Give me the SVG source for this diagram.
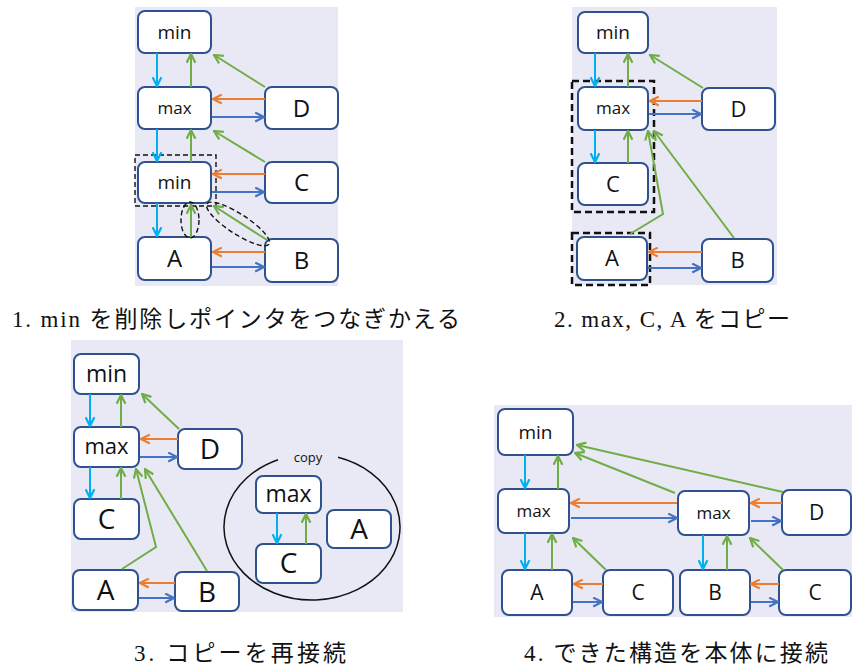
<svg xmlns="http://www.w3.org/2000/svg" width="852" height="668" viewBox="0 0 852 668">
  <style>
    .bg { fill: #E9E9F5; }
    .node rect { fill: #FFFFFF; stroke: #2F528F; stroke-width: 2; }
    .node text { font-family: "Open Sans", "Noto Sans", "Liberation Sans", sans-serif; fill: #111; text-anchor: middle; }
    .cy { stroke: #00B0F0; stroke-width: 2; fill: none; marker-end: url(#hCy); }
    .gr { stroke: #70AD47; stroke-width: 2; fill: none; marker-end: url(#hGr); }
    .or { stroke: #ED7D31; stroke-width: 2; fill: none; marker-end: url(#hOr); }
    .bl { stroke: #4472C4; stroke-width: 2; fill: none; marker-end: url(#hBl); }
    .dash { fill: none; stroke: #111; stroke-width: 1.4; stroke-dasharray: 5 3; }
    .dash2 { fill: none; stroke: #111; stroke-width: 2.5; stroke-dasharray: 7 4; }
    .cap { font-family: "Liberation Serif", "Noto Sans CJK JP", serif; font-size: 23px; fill: #111; text-anchor: middle; }
  </style>
  <defs>
    <marker id="hCy" viewBox="0 0 10 10" refX="9" refY="5" markerWidth="11" markerHeight="11" markerUnits="userSpaceOnUse" orient="auto"><path d="M1,1 L9,5 L1,9" fill="none" stroke="#00B0F0" stroke-width="2"/></marker>
    <marker id="hGr" viewBox="0 0 10 10" refX="9" refY="5" markerWidth="11" markerHeight="11" markerUnits="userSpaceOnUse" orient="auto"><path d="M1,1 L9,5 L1,9" fill="none" stroke="#70AD47" stroke-width="2"/></marker>
    <marker id="hOr" viewBox="0 0 10 10" refX="9" refY="5" markerWidth="11" markerHeight="11" markerUnits="userSpaceOnUse" orient="auto"><path d="M1,1 L9,5 L1,9" fill="none" stroke="#ED7D31" stroke-width="2"/></marker>
    <marker id="hBl" viewBox="0 0 10 10" refX="9" refY="5" markerWidth="11" markerHeight="11" markerUnits="userSpaceOnUse" orient="auto"><path d="M1,1 L9,5 L1,9" fill="none" stroke="#4472C4" stroke-width="2"/></marker>
  </defs>

  <rect width="852" height="668" fill="#FFFFFF"/>

  <!-- backgrounds of the four steps -->
  <rect class="bg" x="135" y="7" width="203" height="279"/>
  <rect class="bg" x="572" y="7" width="205" height="278"/>
  <rect class="bg" x="71" y="340" width="332" height="272"/>
  <rect class="bg" x="494" y="405" width="358" height="212"/>

  <!-- step 1 -->
  <g id="p1-min-top" class="node"><rect x="138" y="11" width="73" height="42" rx="7"/><text x="174.5" y="39" font-size="19">min</text></g>
  <g id="p1-max" class="node"><rect x="138" y="87" width="73" height="42" rx="7"/><text x="174.5" y="114" font-size="17">max</text></g>
  <g id="p1-D" class="node"><rect x="265" y="87" width="73" height="42" rx="7"/><text x="301.5" y="117" font-size="24">D</text></g>
  <g id="p1-min" class="node"><rect x="138" y="162" width="73" height="41" rx="7"/><text x="174.5" y="189" font-size="19">min</text></g>
  <g id="p1-C" class="node"><rect x="265" y="162" width="73" height="41" rx="7"/><text x="301.5" y="191" font-size="24">C</text></g>
  <g id="p1-A" class="node"><rect x="138" y="237" width="73" height="43" rx="7"/><text x="174.5" y="267" font-size="24">A</text></g>
  <g id="p1-B" class="node"><rect x="265" y="239" width="73" height="43" rx="7"/><text x="301.5" y="269" font-size="24">B</text></g>
  <g id="p1-marks">
    <rect class="dash" x="135" y="155" width="81" height="51"/>
    <ellipse class="dash" cx="190" cy="220" rx="9" ry="18"/>
    <ellipse class="dash" cx="238" cy="224" rx="37" ry="10" transform="rotate(33 238 224)"/>
  </g>

  <!-- step 2 -->
  <g id="p2-min" class="node"><rect x="578" y="12" width="70" height="41" rx="7"/><text x="613" y="39" font-size="19">min</text></g>
  <g id="p2-max" class="node"><rect x="578" y="87" width="70" height="43" rx="7"/><text x="613" y="114" font-size="17">max</text></g>
  <g id="p2-D" class="node"><rect x="702" y="88" width="73" height="42" rx="7"/><text x="738.5" y="117" font-size="22">D</text></g>
  <g id="p2-C" class="node"><rect x="578" y="163" width="70" height="42" rx="7"/><text x="613" y="192" font-size="22">C</text></g>
  <g id="p2-A" class="node"><rect x="577" y="237" width="70" height="43" rx="7"/><text x="612" y="266" font-size="22">A</text></g>
  <g id="p2-B" class="node"><rect x="702" y="239" width="71" height="43" rx="7"/><text x="737.5" y="268" font-size="22">B</text></g>
  <g id="p2-marks">
    <rect class="dash2" x="572" y="81" width="82" height="131"/>
    <rect class="dash2" x="572" y="233" width="78" height="52"/>
  </g>

  <!-- step 3 -->
  <g id="p3-min" class="node"><rect x="74" y="354" width="65" height="40" rx="7"/><text x="106.5" y="382" font-size="23">min</text></g>
  <g id="p3-max" class="node"><rect x="74" y="427" width="65" height="40" rx="7"/><text x="106.5" y="454" font-size="22">max</text></g>
  <g id="p3-D" class="node"><rect x="178" y="429" width="64" height="40" rx="7"/><text x="210" y="459" font-size="28">D</text></g>
  <g id="p3-C" class="node"><rect x="74" y="499" width="65" height="40" rx="7"/><text x="106.5" y="529" font-size="28">C</text></g>
  <g id="p3-A" class="node"><rect x="73" y="570" width="65" height="40" rx="7"/><text x="105.5" y="600" font-size="28">A</text></g>
  <g id="p3-B" class="node"><rect x="175" y="572" width="64" height="39" rx="7"/><text x="207" y="602" font-size="28">B</text></g>
  <g id="p3-copy">
    <path d="M338,457.3 A88,73 0 1 1 278,459.7" fill="none" stroke="#111" stroke-width="1.5"/>
    <text x="308" y="462" font-family="Open Sans, Noto Sans, Liberation Sans, sans-serif" font-size="13" text-anchor="middle" fill="#111">copy</text>
  </g>
  <g id="p3-copy-max" class="node"><rect x="256" y="476" width="65" height="37" rx="7"/><text x="288.5" y="502" font-size="23">max</text></g>
  <g id="p3-copy-C" class="node"><rect x="256" y="544" width="65" height="39" rx="7"/><text x="288.5" y="573" font-size="28">C</text></g>
  <g id="p3-copy-A" class="node"><rect x="327" y="510" width="64" height="38" rx="7"/><text x="359" y="539" font-size="28">A</text></g>

  <!-- step 4 -->
  <g id="p4-min" class="node"><rect x="498" y="409" width="75" height="46" rx="7"/><text x="535.5" y="439" font-size="19">min</text></g>
  <g id="p4-max1" class="node"><rect x="498" y="489" width="71" height="44" rx="7"/><text x="533.5" y="517" font-size="17">max</text></g>
  <g id="p4-A" class="node"><rect x="502" y="570" width="70" height="45" rx="7"/><text x="537" y="600" font-size="21">A</text></g>
  <g id="p4-C1" class="node"><rect x="603" y="570" width="70" height="45" rx="7"/><text x="638" y="600" font-size="21">C</text></g>
  <g id="p4-max2" class="node"><rect x="678" y="491" width="71" height="44" rx="7"/><text x="713.5" y="519" font-size="17">max</text></g>
  <g id="p4-D" class="node"><rect x="782" y="490" width="69" height="45" rx="7"/><text x="816.5" y="520" font-size="21">D</text></g>
  <g id="p4-B" class="node"><rect x="680" y="570" width="70" height="45" rx="7"/><text x="715" y="600" font-size="21">B</text></g>
  <g id="p4-C2" class="node"><rect x="779" y="570" width="72" height="45" rx="7"/><text x="815" y="600" font-size="21">C</text></g>

  <!-- connectors -->
  <g id="connectors">
    <!-- step 1 -->
    <path class="cy" d="M157,53 L157,86"/>
    <path class="gr" d="M191,87 L191,54"/>
    <path class="gr" d="M265,87 L214,55"/>
    <path class="or" d="M265,99 L213,99"/>
    <path class="bl" d="M212,117 L264,117"/>
    <path class="cy" d="M157,129 L157,161"/>
    <path class="gr" d="M191,162 L191,130"/>
    <path class="gr" d="M265,162 L214,131"/>
    <path class="or" d="M265,174 L213,174"/>
    <path class="bl" d="M212,192 L264,192"/>
    <path class="cy" d="M157,203 L157,236"/>
    <path class="gr" d="M191,237 L191,205"/>
    <path class="gr" d="M267,240 L214,206"/>
    <path class="or" d="M265,252 L213,252"/>
    <path class="bl" d="M212,267 L264,267"/>
    <!-- step 2 -->
    <path class="cy" d="M595,53 L595,86"/>
    <path class="gr" d="M628,87 L628,54"/>
    <path class="gr" d="M703,88 L650,55"/>
    <path class="or" d="M702,101 L650,101"/>
    <path class="bl" d="M649,114 L701,114"/>
    <path class="cy" d="M595,130 L595,162"/>
    <path class="gr" d="M628,163 L628,131"/>
    <path class="gr" d="M630,234 L663,214 L648,131"/>
    <path class="gr" d="M734,238 L654,131"/>
    <path class="or" d="M702,252 L649,252"/>
    <path class="bl" d="M648,268 L701,268"/>
    <!-- step 3 -->
    <path class="cy" d="M90,394 L90,426"/>
    <path class="gr" d="M121,427 L121,395"/>
    <path class="gr" d="M179,429 L142,394"/>
    <path class="or" d="M178,439 L141,439"/>
    <path class="bl" d="M140,457 L177,457"/>
    <path class="cy" d="M90,467 L90,498"/>
    <path class="gr" d="M121,499 L121,468"/>
    <path class="gr" d="M122,569 L156,547 L136,469"/>
    <path class="gr" d="M207,571 L145,469"/>
    <path class="or" d="M175,583 L140,583"/>
    <path class="bl" d="M139,598 L174,598"/>
    <path class="cy" d="M277,513 L277,543"/>
    <path class="gr" d="M306,544 L306,514"/>
    <!-- step 4 -->
    <path class="cy" d="M525,455 L525,488"/>
    <path class="gr" d="M558,489 L558,456"/>
    <path class="gr" d="M783,492 L577,445"/>
    <path class="gr" d="M675,493 L575,453"/>
    <path class="or" d="M677,503 L571,503"/>
    <path class="bl" d="M571,518 L677,518"/>
    <path class="or" d="M782,503 L751,503"/>
    <path class="bl" d="M751,521 L781,521"/>
    <path class="cy" d="M525,533 L525,569"/>
    <path class="gr" d="M552,570 L552,534"/>
    <path class="gr" d="M606,570 L573,538"/>
    <path class="or" d="M603,584 L574,584"/>
    <path class="bl" d="M573,602 L602,602"/>
    <path class="cy" d="M703,535 L703,569"/>
    <path class="gr" d="M727,570 L727,536"/>
    <path class="gr" d="M783,570 L750,538"/>
    <path class="or" d="M779,584 L751,584"/>
    <path class="bl" d="M751,602 L778,602"/>
  </g>

  <!-- captions -->
  <text class="cap" x="236" y="327" textLength="448" lengthAdjust="spacing">1. min を削除しポインタをつなぎかえる</text>
  <text class="cap" x="672" y="327" textLength="236" lengthAdjust="spacing">2. max, C, A をコピー</text>
  <text class="cap" x="240" y="661" textLength="212" lengthAdjust="spacing">3. コピーを再接続</text>
  <text class="cap" x="676" y="661" textLength="304" lengthAdjust="spacing">4. できた構造を本体に接続</text>
</svg>
